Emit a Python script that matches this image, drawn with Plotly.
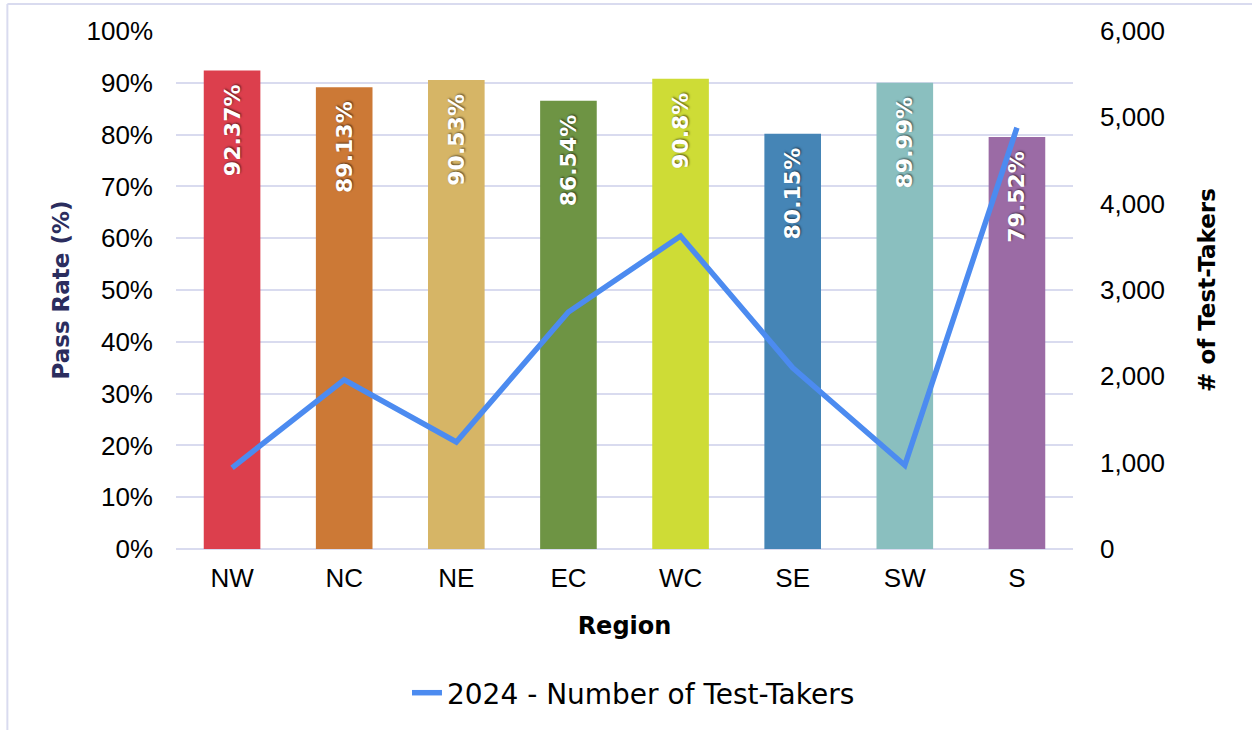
import plotly.graph_objects as go

regions = ["NW", "NC", "NE", "EC", "WC", "SE", "SW", "S"]
pass_rates = [92.37, 89.13, 90.53, 86.54, 90.8, 80.15, 89.99, 79.52]
test_takers = [940, 1960, 1240, 2745, 3625, 2100, 970, 4880]
bar_colors = ["#DC3F4D", "#CC7936", "#D6B566", "#6E9444", "#CEDC36", "#4585B6", "#8ABFBF", "#9B6BA5"]
left_ticks = [0, 10, 20, 30, 40, 50, 60, 70, 80, 90, 100]
right_ticks = [0, 1000, 2000, 3000, 4000, 5000, 6000]

labels = [f"{v:g}%" + "\u2002" for v in pass_rates]

fig = go.Figure()
fig.add_trace(go.Bar(
    x=regions, y=pass_rates, marker=dict(color=bar_colors, line=dict(width=0)),
    text=labels, textposition="inside", insidetextanchor="end", textangle=-90,
    constraintext="none",
    textfont=dict(family="DejaVu Sans", size=22, color="white", weight="bold",
                  shadow="1px 1px 2px rgba(0,0,0,0.55)"),
    showlegend=False, hoverinfo="skip",
))
fig.add_trace(go.Scatter(
    x=regions, y=test_takers, yaxis="y2", mode="lines",
    line=dict(color="#4C8BF0", width=5.5),
    name="2024 - Number of Test-Takers",
))

grid = "#D9DBEF"
fig.update_layout(
    width=1252, height=730,
    margin=dict(l=176, r=179, t=31, b=181),
    paper_bgcolor="white", plot_bgcolor="white",
    bargap=0.495,
    font=dict(family="Liberation Sans", color="black"),
    xaxis=dict(
        tickfont=dict(size=26, family="Liberation Sans"),
        title=dict(text="Region", font=dict(size=24, family="DejaVu Sans", weight="bold"), standoff=25),
        showgrid=False, showline=False, ticks="", ticklabelstandoff=11,
    ),
    yaxis=dict(
        range=[0, 100], tickvals=left_ticks, ticktext=[f"{t}%" for t in left_ticks],
        tickfont=dict(size=26), gridcolor=grid, gridwidth=2,
        zeroline=True, zerolinecolor=grid, zerolinewidth=2,
        title=dict(text="Pass Rate (%)", font=dict(size=23, family="DejaVu Sans", weight="bold", color="#2B2D5E"), standoff=10),
        ticklabelstandoff=22,
    ),
    yaxis2=dict(
        range=[0, 6000], tickvals=right_ticks, ticktext=[f"{t:,}" for t in right_ticks],
        overlaying="y", side="right", showgrid=False, zeroline=False,
        tickfont=dict(size=26),
        title=dict(text="# of Test-Takers", font=dict(size=23, family="DejaVu Sans", weight="bold"), standoff=34),
        ticklabelstandoff=26,
    ),
    legend=dict(orientation="h", x=0.51, xanchor="center", y=-0.278, yanchor="middle",
                font=dict(size=28, family="DejaVu Sans")),
    shapes=[
        dict(type="line", xref="paper", yref="paper", x0=-0.188, x1=1.3, y0=1.052, y1=1.052,
             line=dict(color=grid, width=2)),
        dict(type="line", xref="paper", yref="paper", x0=-0.188, x1=-0.188, y0=1.052, y1=-0.36,
             line=dict(color=grid, width=2)),
    ],
)

fig.write_html("out.html", config={"displayModeBar": False},
               post_script="document.body.style.margin='0';")
